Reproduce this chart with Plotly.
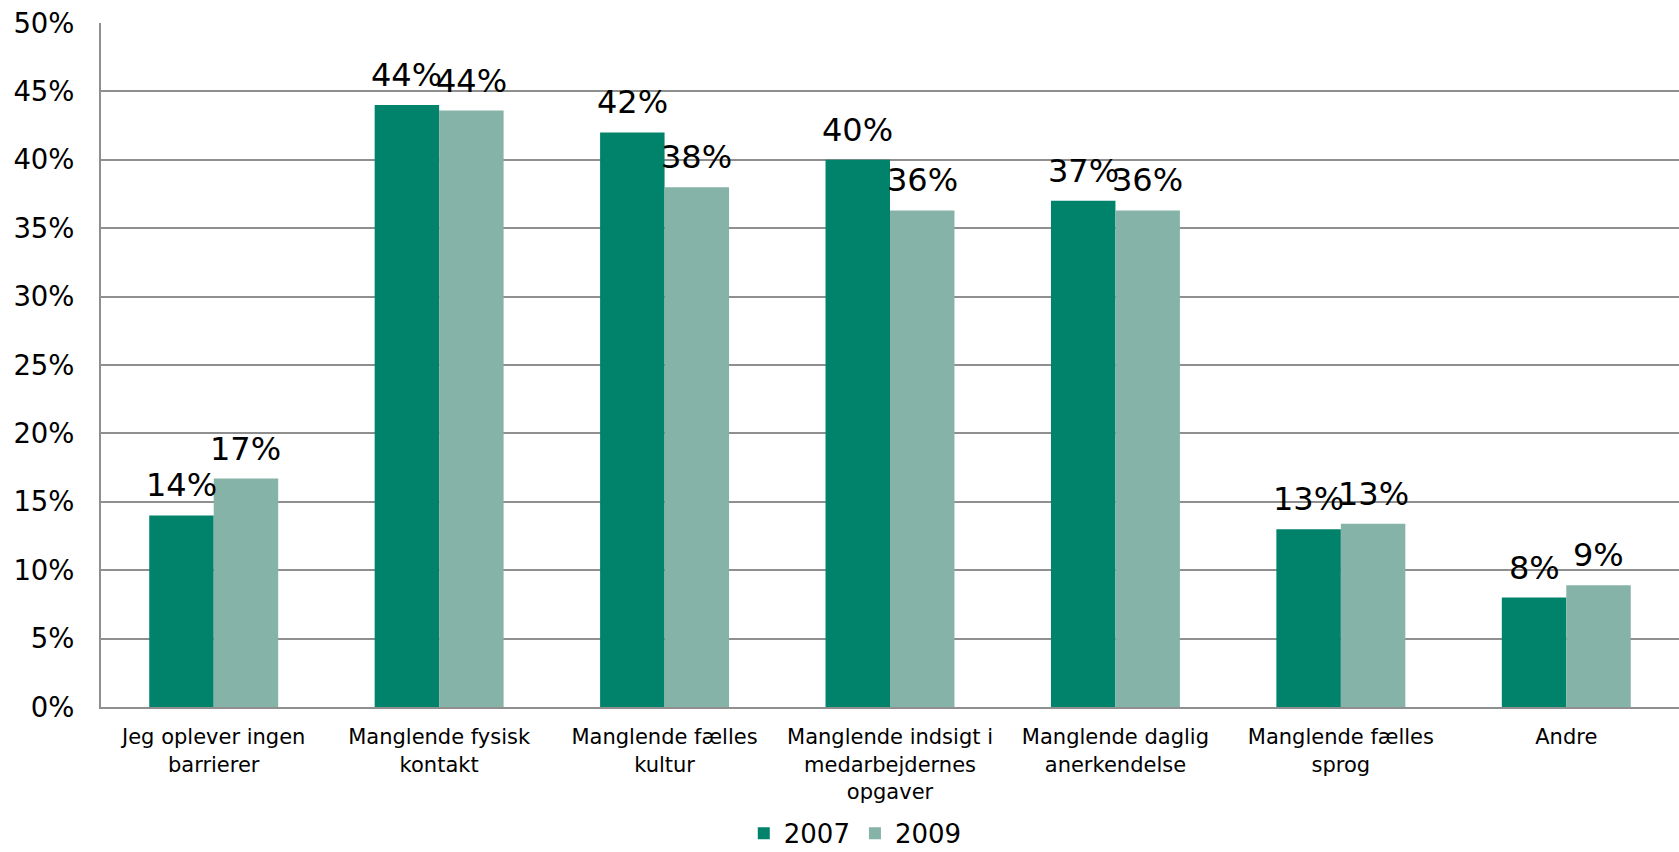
import plotly.graph_objects as go

# Survey: perceived barriers to collaboration, share of respondents (%)
categories = [
    "Jeg oplever ingen<br>barrierer",
    "Manglende fysisk<br>kontakt",
    "Manglende fælles<br>kultur",
    "Manglende indsigt i<br>medarbejdernes<br>opgaver",
    "Manglende daglig<br>anerkendelse",
    "Manglende fælles<br>sprog",
    "Andre",
]
values_2007 = [14.0, 44.0, 42.0, 40.0, 37.0, 13.0, 8.0]
values_2009 = [16.7, 43.6, 38.0, 36.3, 36.3, 13.4, 8.9]
series_names = ["2007", "2009"]
y_ticks = list(range(0, 51, 5))

COLOR_2007 = "#00826B"
COLOR_2009 = "#86B3A7"
GRID = "#8F8F8F"
FONT = "DejaVu Sans"
BAR_W = 0.286

x_idx = list(range(len(categories)))

fig = go.Figure()
fig.add_trace(go.Bar(
    x=x_idx, y=values_2007, name=series_names[0],
    marker=dict(color=COLOR_2007, line=dict(width=0)),
    width=BAR_W, offset=-BAR_W,
))
fig.add_trace(go.Bar(
    x=x_idx, y=values_2009, name=series_names[1],
    marker=dict(color=COLOR_2009, line=dict(width=0)),
    width=BAR_W, offset=0,
))

# value labels above each bar
for vals, shift in ((values_2007, -BAR_W / 2), (values_2009, BAR_W / 2)):
    for i, v in zip(x_idx, vals):
        fig.add_annotation(
            x=i + shift, y=v, text=f"{v:.0f}%",
            showarrow=False, yanchor="bottom", yshift=9,
            font=dict(family=FONT, size=32, color="#000000"),
        )

fig.update_layout(
    width=1679, height=852,
    margin=dict(l=101, r=0, t=23, b=145, autoexpand=False),
    paper_bgcolor="white", plot_bgcolor="white",
    barmode="overlay",
    font=dict(family=FONT, color="#000000"),
    showlegend=True,
    legend=dict(
        orientation="h", x=0.478, xanchor="center",
        yref="container", y=0.022, yanchor="middle",
        font=dict(family=FONT, size=26), itemwidth=30, tracegroupgap=0,
        bgcolor="rgba(0,0,0,0)",
    ),
)
fig.update_xaxes(
    range=[-0.5, len(categories) - 0.5],
    tickmode="array", tickvals=x_idx, ticktext=categories,
    showgrid=False, zeroline=False, automargin=False,
    showline=True, linecolor=GRID, linewidth=2,
    ticks="", tickfont=dict(family=FONT, size=21),
    ticklabelstandoff=10,
)
fig.update_yaxes(
    range=[0, 50], tickmode="array", tickvals=y_ticks,
    ticktext=[f"{t}%" for t in y_ticks],
    showgrid=True, gridcolor=GRID, gridwidth=1.6, automargin=False,
    zeroline=False, showline=True, linecolor=GRID, linewidth=2,
    ticks="", tickfont=dict(family=FONT, size=27.5),
    ticklabelstandoff=19,
)

fig.write_html("out.html")
